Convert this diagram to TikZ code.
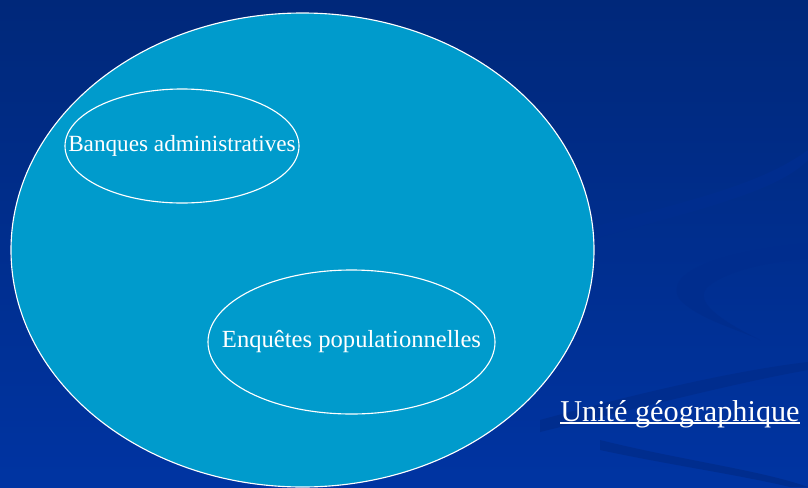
\documentclass[tikz,border=0pt]{standalone}
\usepackage{fontspec}
\setmainfont{Liberation Serif}
\definecolor{slidetop}{HTML}{00287A}
\definecolor{slidebot}{HTML}{0034A2}
\definecolor{swoosh}{HTML}{002D8E}
\definecolor{zonecolor}{HTML}{009BCC}
\tikzset{
  zone/.style={draw=white, line width=0.8pt},
  zonelabel/.style={text=white, font=\fontsize{16.5}{19}\selectfont, inner sep=0pt},
}
\begin{document}
\begin{tikzpicture}[x=0.025cm,y=-0.025cm]
				\useasboundingbox (0,0) rectangle (808,487);
				\clip (0,0) rectangle (808,487);
				
				% Background of the slide
				\shade[top color=slidetop, bottom color=slidebot] (0,0) rectangle (808,487);
				\fill[swoosh] (600,237) .. controls (700,210) and (780,190) .. (808,160)
				  -- (808,150) .. controls (760,185) and (690,200) .. (600,225) -- cycle;
				\fill[swoosh] (808,243) .. controls (730,250) and (660,270) .. (680,300)
				  .. controls (700,320) and (740,330) .. (760,340)
				  .. controls (720,320) and (690,300) .. (710,285)
				  .. controls (730,270) and (770,262) .. (808,258) -- cycle;
				\fill[swoosh] (540,420) .. controls (650,390) and (740,370) .. (808,362)
				  -- (808,370) .. controls (740,382) and (650,405) .. (540,432) -- cycle;
				\fill[swoosh] (600,440) .. controls (680,460) and (760,470) .. (808,487)
				  -- (790,487) .. controls (740,475) and (670,465) .. (600,450) -- cycle;
				
				% The geographic unit
				\coordinate (U) at (302.5,250);
				\fill[zonecolor] (U) ellipse [x radius=291.5, y radius=237];
				\draw[zone] (U) ellipse [x radius=291.5, y radius=237];
				
				% The two data sources inside it
				\coordinate (B) at (182,146);
				\coordinate (E) at (351.5,342);
				\draw[zone] (B) ellipse [x radius=117, y radius=57];
				\draw[zone] (E) ellipse [x radius=143.5, y radius=72];
				\node[zonelabel] (banques) at (B) {Banques administratives};
				\node[zonelabel, font=\fontsize{17.5}{20}\selectfont] (enquetes) at (E) {Enquêtes populationnelles};
				
				% Label of the unit
				\node[zonelabel, font=\fontsize{21.5}{25}\selectfont, anchor=base] (unite) at (680,421) {Unité géographique};
				\draw[white, line width=0.9pt] ([yshift=-1.5pt]unite.base west) -- ([yshift=-1.5pt]unite.base east);
			\end{tikzpicture}
\end{document}
